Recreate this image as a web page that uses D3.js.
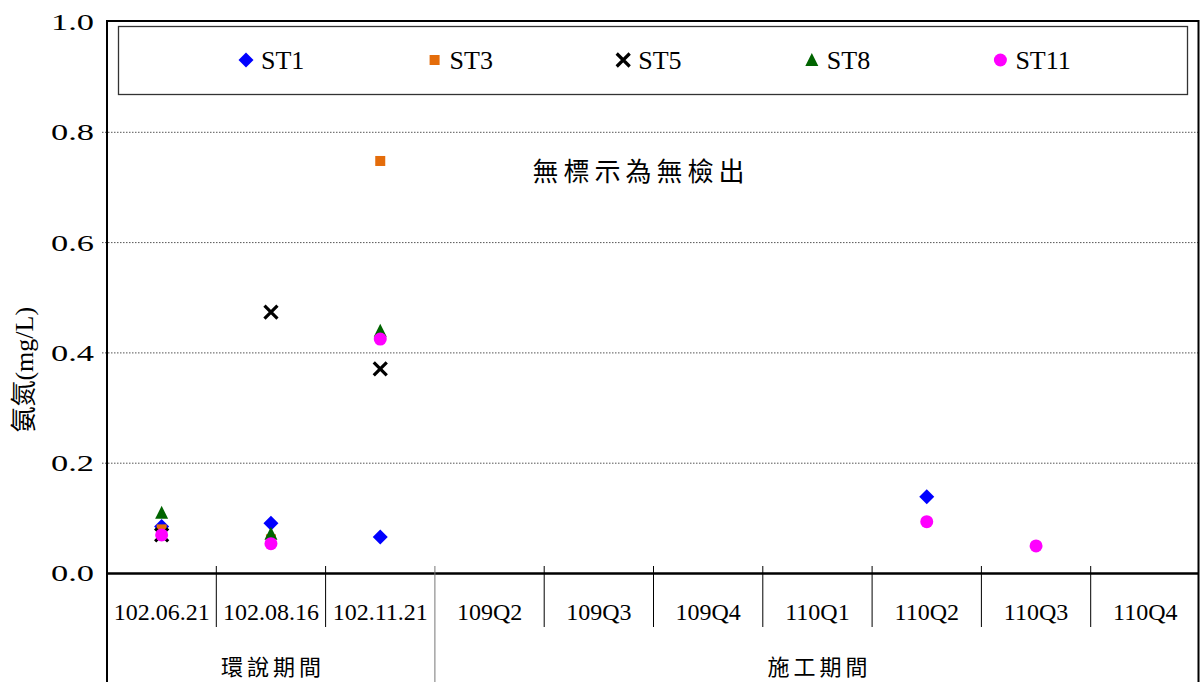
<!DOCTYPE html>
<html><head><meta charset="utf-8">
<script src="https://cdn.jsdelivr.net/npm/d3@7"></script>
<style>body{margin:0;background:#fff}svg{display:block}</style>
</head><body>
<svg id="c" width="1200" height="682"></svg>
<script>
const categories = ["102.06.21","102.08.16","102.11.21","109Q2","109Q3","109Q4","110Q1","110Q2","110Q3","110Q4"];
const groups = [{name:"環說期間", from:0, to:3},{name:"施工期間", from:3, to:10}];
const seriesNames = ["ST1","ST3","ST5","ST8","ST11"];
const st1  = [0.085, 0.091, 0.066, null, null, null, null, 0.139, null, null];
const st3  = [0.080, 0.062, 0.748, null, null, null, null, null, null, null];
const st5  = [0.070, 0.474, 0.371, null, null, null, null, null, null, null];
const st8  = [0.110, 0.072, 0.440, null, null, null, null, null, null, null];
const st11 = [0.070, 0.054, 0.425, null, null, null, null, 0.094, 0.050, null];
const yTicks = [0, 0.2, 0.4, 0.6, 0.8, 1.0];
const yTitle = "氨氮(mg/L)";
const note = "無標示為無檢出";

const seriesValues = [st1, st3, st5, st8, st11];
const colors = ["#0000FF","#E46C0A","#000000","#006400","#FF00FF"];
const shapes = ["diamond","square","x","triangle","circle"];

const svg = d3.select("#c");
const L = 107, R = 1200, T = 22, B = 573.5;
const x = d3.scaleBand().domain(categories).range([L, R]);
const y = d3.scaleLinear().domain([0, 1]).range([B, T]);
const serif = "'Liberation Serif','Times New Roman',serif";
const cjk = "'Noto Sans CJK TC','Noto Sans CJK SC',sans-serif";

// gridlines
svg.append("g").selectAll("line").data(yTicks.filter(d => d > 0 && d < 1)).join("line")
  .attr("x1", L - 5).attr("x2", R).attr("y1", d => y(d)).attr("y2", d => y(d))
  .attr("stroke", "#555").attr("stroke-width", 1).attr("stroke-dasharray", "1.5,1.5");

// y axis labels
svg.append("g").selectAll("text").data(yTicks).join("text")
  .attr("x", 94).attr("y", d => y(d)).attr("dy", "0.33em").attr("text-anchor", "end")
  .attr("font-family", serif).attr("font-size", 24)
  .attr("textLength", 43).attr("lengthAdjust", "spacingAndGlyphs")
  .text(d => d3.format(".1f")(d));

// y title
svg.append("text").attr("transform", `translate(33,${(T + B) / 2 + 72}) rotate(-90)`)
  .attr("text-anchor", "middle").attr("font-size", 26)
  .selectAll("tspan").data([[yTitle.slice(0, 2), cjk], [yTitle.slice(2), serif]]).join("tspan")
  .attr("font-family", d => d[1]).text(d => d[0]);

// frame
svg.append("line").attr("x1", L).attr("x2", L).attr("y1", 20).attr("y2", 682).attr("stroke", "#000").attr("stroke-width", 2);
svg.append("line").attr("x1", L).attr("x2", 1199).attr("y1", 21).attr("y2", 21).attr("stroke", "#000").attr("stroke-width", 2);
svg.append("line").attr("x1", 1198.5).attr("x2", 1198.5).attr("y1", 20).attr("y2", 682).attr("stroke", "#000").attr("stroke-width", 2);
svg.append("line").attr("x1", L).attr("x2", 1199).attr("y1", B).attr("y2", B).attr("stroke", "#000").attr("stroke-width", 2.5);

// category separators
const bounds = d3.range(1, categories.length).map(i => x(categories[i]));
const groupBounds = groups.map(g => g.to).filter(t => t < categories.length).map(t => x(categories[t]));
svg.append("g").selectAll("line").data(bounds).join("line")
  .attr("x1", d => d).attr("x2", d => d)
  .attr("y1", 566).attr("y2", d => groupBounds.some(g => Math.abs(g - d) < 0.1) ? 682 : 627)
  .attr("stroke", d => groupBounds.some(g => Math.abs(g - d) < 0.1) ? "#777" : "#000").attr("stroke-width", 1);

// category labels
svg.append("g").selectAll("text").data(categories).join("text")
  .attr("x", d => x(d) + x.bandwidth() / 2).attr("y", 620).attr("text-anchor", "middle")
  .attr("font-family", serif).attr("font-size", 24).text(d => d);

// group labels
svg.append("g").selectAll("text").data(groups).join("text")
  .attr("x", d => (x(categories[d.from]) + (d.to < categories.length ? x(categories[d.to]) : R)) / 2 + 2)
  .attr("y", 675).attr("text-anchor", "middle")
  .attr("font-family", cjk).attr("font-size", 22).attr("letter-spacing", 4).text(d => d.name);

// note
svg.append("text").attr("x", 641).attr("y", 181).attr("text-anchor", "middle")
  .attr("font-family", cjk).attr("font-size", 26).attr("letter-spacing", 5).text(note);

function marker(g, shape, color, cx, cy) {
  if (shape === "diamond") g.append("path").attr("d", `M${cx},${cy - 7.5}L${cx + 7.5},${cy}L${cx},${cy + 7.5}L${cx - 7.5},${cy}Z`).attr("fill", color);
  else if (shape === "square") g.append("rect").attr("x", cx - 5).attr("y", cy - 5).attr("width", 10).attr("height", 10).attr("fill", color);
  else if (shape === "x") g.append("path").attr("d", `M${cx - 6.5},${cy - 6.5}L${cx + 6.5},${cy + 6.5}M${cx - 6.5},${cy + 6.5}L${cx + 6.5},${cy - 6.5}`).attr("stroke", color).attr("stroke-width", 3.2);
  else if (shape === "triangle") g.append("path").attr("d", `M${cx},${cy - 7}L${cx + 6.5},${cy + 6}L${cx - 6.5},${cy + 6}Z`).attr("fill", color);
  else if (shape === "circle") g.append("circle").attr("cx", cx).attr("cy", cy).attr("r", 6.5).attr("fill", color);
}

// points
seriesValues.forEach((vals, si) => {
  const g = svg.append("g");
  vals.forEach((v, i) => {
    if (v == null) return;
    marker(g, shapes[si], colors[si], x(categories[i]) + x.bandwidth() / 2, y(v));
  });
});

// legend
svg.append("rect").attr("x", 118.5).attr("y", 26.5).attr("width", 1069).attr("height", 68)
  .attr("fill", "#fff").attr("stroke", "#333").attr("stroke-width", 1.3);
const lg = svg.append("g");
seriesNames.forEach((n, i) => {
  const cx = 246 + i * 188.6;
  marker(lg, shapes[i], colors[i], cx, 60);
  lg.append("text").attr("x", cx + 15).attr("y", 60).attr("dy", "0.35em")
    .attr("font-family", serif).attr("font-size", 26).text(n);
});
</script>
</body></html>
